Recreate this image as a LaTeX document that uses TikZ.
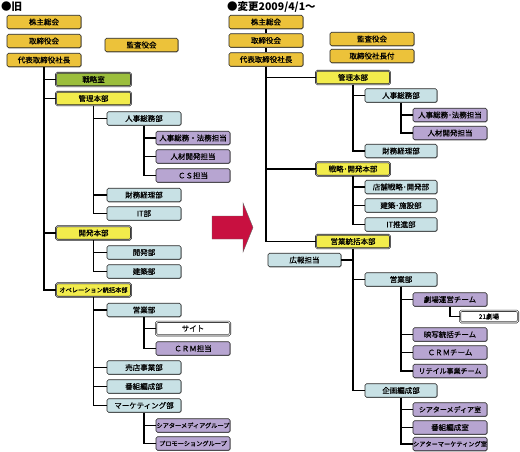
\documentclass[tikz,border=0pt]{standalone}
\usepackage{fontspec}
\setmainfont{Noto Sans CJK JP}
\newfontfamily\boxfont{Noto Sans CJK JP}[FakeBold=0.5]
\usepackage{tikz}
\usetikzlibrary{shadows}

\definecolor{goldbox}{RGB}{236,194,58}
\definecolor{yellowbox}{RGB}{242,236,76}
\definecolor{greenbox}{RGB}{155,190,60}
\definecolor{bluebox}{RGB}{200,225,229}
\definecolor{purplebox}{RGB}{183,165,209}
\definecolor{arrowred}{RGB}{200,16,64}

\tikzset{
  box/.style={draw=black!85,line width=0.6pt,rounded corners=1.5pt,minimum width=74pt,minimum height=13.5pt,inner sep=0pt,
    font=\boxfont\fontsize{7.5}{8}\selectfont,drop shadow={shadow xshift=0.6pt,shadow yshift=-0.6pt,fill=black!45,opacity=1}},
  gold/.style={box,fill=goldbox},
  head/.style={box,fill=yellowbox,double=black!25,double distance=0.5pt},
  green/.style={box,fill=greenbox,double=black!25,double distance=0.5pt},
  dept/.style={box,fill=bluebox},
  team/.style={box,fill=purplebox},
  site/.style={box,fill=white,double=white,double distance=0.8pt},
  longtext/.style={font=\boxfont\fontsize{6.2}{6.5}\selectfont},
  conn/.style={draw=black,line width=1.1pt},
  title/.style={anchor=west,inner sep=0pt,font=\fontsize{10.5}{11}\selectfont\bfseries}
}

\begin{document}
\begin{tikzpicture}[x=1pt,y=-1pt]
\useasboundingbox (0,0) rectangle (520,451);
% left: old chart
\begin{scope}
\node[title] (oTitle) at (1,7) {●旧};
\node[gold] (oKabu) at (44,22) {株主総会};
\node[gold] (oTori) at (44,41) {取締役会};
\node[gold] (oCeo) at (44,60) {代表取締役社長};
\node[gold,minimum width=73pt] (oKansa) at (141.5,45) {監査役会};
\node[green,minimum width=75pt] (oSenryaku) at (93.5,79.5) {戦略室};
\node[head,minimum width=75pt] (oKanri) at (93.5,98.5) {管理本部};
\node[dept] (oJinji) at (144,118.5) {人事総務部};
\node[team] (oHoumu) at (193,138) {人事総務・法務担当};
\node[team] (oJinzai) at (193,156.5) {人材開発担当};
\node[team] (oCs) at (193,175.5) {ＣＳ担当};
\node[dept] (oZaimu) at (144,195) {財務経理部};
\node[dept] (oIt) at (144,213.5) {IT部};
\node[head,minimum width=75pt] (oKaihatsuHQ) at (93.5,233) {開発本部};
\node[dept] (oKaihatsu) at (144,252.5) {開発部};
\node[dept] (oKenchiku) at (144,271.5) {建築部};
\node[head,longtext,minimum width=75pt] (oOpe) at (93.5,290) {オペレーション統括本部};
\node[dept] (oEigyo) at (144,310) {営業部};
\node[site] (oSite) at (193,328.5) {サイト};
\node[team] (oCrm) at (193,348.5) {ＣＲＭ担当};
\node[dept] (oBaiten) at (144,367.5) {売店事業部};
\node[dept] (oBangumi) at (144,386.5) {番組編成部};
\node[dept] (oMarketing) at (144,405.5) {マーケティング部};
\node[team,longtext] (oTheater) at (193,425.5) {シアターメディアグループ};
\node[team,longtext] (oPromo) at (193,443.5) {プロモーショングループ};
\foreach \c in {oSenryaku,oKanri,oKaihatsuHQ,oOpe} {\draw[conn] (oCeo.south) |- (\c.west);}
\foreach \c in {oJinji,oZaimu,oIt} {\draw[conn] (oKanri.south) |- (\c.west);}
\foreach \c in {oHoumu,oJinzai,oCs} {\draw[conn] (oJinji.south) |- (\c.west);}
\foreach \c in {oKaihatsu,oKenchiku} {\draw[conn] (oKaihatsuHQ.south) |- (\c.west);}
\foreach \c in {oEigyo,oBaiten,oBangumi,oMarketing} {\draw[conn] (oOpe.south) |- (\c.west);}
\foreach \c in {oSite,oCrm} {\draw[conn] (oEigyo.south) |- (\c.west);}
\foreach \c in {oTheater,oPromo} {\draw[conn] (oMarketing.south) |- (\c.west);}
\end{scope}
% arrow
\filldraw[fill=arrowred,draw=black!60,line width=0.4pt] (212,216) -- (243,216) -- (243,203) -- (253,227.5) -- (243,252) -- (243,239) -- (212,239) -- cycle;
% right: new chart
\begin{scope}
\node[title] (nTitle) at (227,7) {●変更2009/4/1～};
\node[gold] (nKabu) at (266,22) {株主総会};
\node[gold] (nTori) at (266,40.5) {取締役会};
\node[gold] (nCeo) at (266,59.5) {代表取締役社長};
\node[gold,minimum width=84pt] (nKansa) at (372,39) {監査役会};
\node[gold,minimum width=84pt] (nShachou) at (372,56) {取締役社長付};
\node[head] (nKanri) at (353,77.5) {管理本部};
\node[dept,minimum width=72pt] (nJinji) at (401,95.5) {人事総務部};
\node[team] (nHoumu) at (450,115) {人事総務･法務担当};
\node[team] (nJinzai) at (450,133) {人材開発担当};
\node[dept,minimum width=72pt] (nZaimu) at (401,151) {財務経理部};
\node[head] (nSenryaku) at (353,169) {戦略･開発本部};
\node[dept,minimum width=72pt] (nTenpo) at (401,187) {店舗戦略･開発部};
\node[dept,minimum width=72pt] (nKenchiku) at (401,205.5) {建築･施設部};
\node[dept,minimum width=72pt] (nIt) at (401,224.5) {IT推進部};
\node[head] (nEigyoHQ) at (353,241.5) {営業統括本部};
\node[dept,minimum width=73pt] (nKouhou) at (304.5,260) {広報担当};
\node[dept,minimum width=72pt] (nEigyo) at (401,279.5) {営業部};
\node[team] (nGekijo) at (450,299.5) {劇場運営チーム};
\node[site,minimum width=58pt,minimum height=11.5pt,font=\boxfont\fontsize{6.5}{7}\selectfont] (n21) at (489,316.5) {21劇場};
\node[team] (nEisha) at (450,334.5) {映写統括チーム};
\node[team] (nCrm) at (450,352.5) {ＣＲＭチーム};
\node[team,font=\boxfont\fontsize{7}{7}\selectfont] (nRetail) at (450,371) {リテイル事業チーム};
\node[dept,minimum width=72pt] (nKikaku) at (401,390.5) {企画編成部};
\node[team,font=\boxfont\fontsize{7}{7}\selectfont] (nTheaterMedia) at (450,409.5) {シアターメディア室};
\node[team] (nBangumi) at (450,427.5) {番組編成室};
\node[team,longtext] (nTheaterMkt) at (450,444) {シアターマーケティング室};
\draw[conn] (nKabu) -- (nTori);
\draw[conn] (nTori) -- (nCeo);
\foreach \c in {nKanri,nSenryaku,nEigyoHQ} {\draw[conn] (nCeo.south) |- (\c.west);}
\foreach \c in {nJinji,nZaimu} {\draw[conn] (nKanri.south) |- (\c.west);}
\foreach \c in {nHoumu,nJinzai} {\draw[conn] (nJinji.south) |- (\c.west);}
\foreach \c in {nTenpo,nKenchiku,nIt} {\draw[conn] (nSenryaku.south) |- (\c.west);}
\foreach \c in {nEigyo,nKikaku} {\draw[conn] (nEigyoHQ.south) |- (\c.west);}
\draw[conn] (nKouhou.east) -- (nKouhou.east -| nEigyoHQ.south);
\foreach \c in {nGekijo,nEisha,nCrm,nRetail} {\draw[conn] (nEigyo.south) |- (\c.west);}
\draw[conn] (nGekijo.south) |- (n21.west);
\foreach \c in {nTheaterMedia,nBangumi,nTheaterMkt} {\draw[conn] (nKikaku.south) |- (\c.west);}
\end{scope}
\end{tikzpicture}
\end{document}
